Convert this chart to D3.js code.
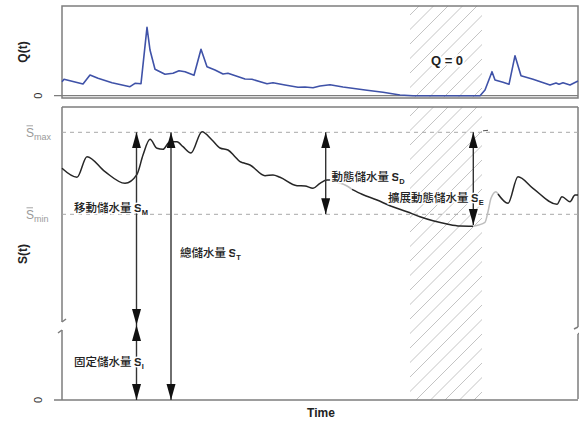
<!DOCTYPE html>
<html><head><meta charset="utf-8">
<script src="https://cdn.jsdelivr.net/npm/d3@7"></script>
<style>body{margin:0;background:#fff}svg{display:block}</style>
</head><body>
<svg id="c" width="579" height="421"></svg>
<script>
// ---------- data (time in days, values in arbitrary units) ----------
const qTime  = [0,2,21,28,36,50,68,73,79,85,88,93,103,111,117,123,132,139,145,153,161,166,183,190,205,211,223,236,243,251,258,268,281,305,321,338,351,418,423,430,433,441,447,453,459,471,488,494,497,501,508,516];
const qValue = [14,16.4,11.7,20.7,17.4,13,9,12.4,12,68.4,45.7,26.4,21.4,22.4,25,24,20.4,46.4,29,25.7,21.7,22.4,16.7,16.4,12,13,10.7,8.4,8.7,8,9.7,11,8.7,5.4,3.4,0.7,0,0,5.7,24,15.7,13.4,11.4,40,20,16.4,10.7,12.7,11.4,13,10.7,14.7];

const sTime  = [0,15,25,43,63,75,81,88,95,101,108,115,121,129,140,150,158,166,173,178,181,188,203,211,218,235,243,251,258,265,268,273,285,290,300,315,328,345,358,371,385,398,411,423,426,429,434,436,446,456,471,495,500,508,513,516];
const sValue = [231.7,222.7,243.3,228.3,216.7,225.7,245,260.7,251.7,250.7,258.3,258.3,253.3,247,268.3,260,252,250,243.3,238.3,237.3,235,224.3,225,222.7,214.3,214,211.7,216.7,220,220,218.3,214,210.6,205.7,200,194.3,188.3,183.3,179.3,176,174,173.8,177.7,188.3,201.7,208.3,206,196.7,223.3,211.7,195.7,203.3,198.3,205,205];
// time intervals in which the storage curve is drawn in light grey
const sGreyIntervals = [[268,290],[411,436]];

const sMax = 267.7, sMin = 185.7, sBreak = 75;
const zeroFlowPeriod = [348, 420];

// storage arrows
const arrowData = [
  {name:"SM", t:74.5, from:sMax, to:sBreak},
  {name:"SI", t:74.5, from:sBreak, to:0},
  {name:"ST", t:109, from:sMax, to:0},
  {name:"SD", t:263.7, from:sMax, to:sMin},
  {name:"SE", t:411.3, from:sMax, to:175}
];
// labels
const labelData = [
  {txt:"移動儲水量", sub:"M", t:12, s:193},
  {txt:"總儲水量", sub:"T", t:118, s:147.3},
  {txt:"固定儲水量", sub:"I", t:12, s:38.3},
  {txt:"動態儲水量", sub:"D", t:269.5, s:223.3},
  {txt:"擴展動態儲水量", sub:"E", t:326, s:203}
];

// ---------- scales ----------
const x  = d3.scaleLinear().domain([0,516]).range([62,578]);
const yQ = d3.scaleLinear().domain([0,90]).range([95.7,5.7]);
const yS = d3.scaleLinear().domain([0,293]).range([400,107]);

const svg = d3.select("#c");
const frame = "#7d7d7d";
const CJK = "'Noto Sans CJK TC','Noto Sans CJK SC',sans-serif";
const LAT = "'Liberation Sans',Arial,sans-serif";

// ---------- hatching ----------
function hatch(id, yTop, yBot){
  const x0 = x(zeroFlowPeriod[0]), x1 = x(zeroFlowPeriod[1]);
  svg.append("clipPath").attr("id",id).append("rect")
    .attr("x",x0).attr("y",yTop).attr("width",x1-x0).attr("height",yBot-yTop);
  const h = yBot-yTop;
  svg.append("g").attr("clip-path",`url(#${id})`)
    .selectAll("line").data(d3.range(x0-h-20, x1+20, 14.5)).join("line")
    .attr("x1",d=>d).attr("y1",yBot).attr("x2",d=>d+h).attr("y2",yTop)
    .attr("stroke","#c4c4c4").attr("stroke-width",1);
}
hatch("h1", yQ.range()[1]+0.3, 97.5);
hatch("h2", yS(293), yS(0));

// ---------- top panel ----------
svg.append("rect").attr("x",62).attr("y",6).attr("width",516).attr("height",92)
  .attr("fill","none").attr("stroke",frame).attr("stroke-width",1.5);
svg.append("line").attr("x1",54).attr("x2",578).attr("y1",yQ(0)).attr("y2",yQ(0))
  .attr("stroke",frame).attr("stroke-width",1.3);

svg.append("path").datum(qTime.map((t,i)=>[t,qValue[i]]))
  .attr("d", d3.line().x(d=>x(d[0])).y(d=>yQ(d[1])))
  .attr("fill","none").attr("stroke","#3f52a8").attr("stroke-width",1.6)
  .attr("stroke-linejoin","round");

svg.append("text").attr("transform",`translate(27,52) rotate(-90)`)
  .attr("text-anchor","middle").attr("font-family",LAT).attr("font-weight","bold")
  .attr("font-size",12).attr("fill","#222").text("Q(t)");
svg.append("text").attr("transform",`translate(42,${yQ(0)}) rotate(-90)`)
  .attr("text-anchor","middle").attr("font-family",LAT)
  .attr("font-size",11).attr("fill","#333").text("0");
svg.append("text").attr("x",x(385)).attr("y",65).attr("text-anchor","middle")
  .attr("font-family",LAT).attr("font-weight","bold").attr("font-size",13)
  .attr("fill","#222").attr("stroke","#fff").attr("stroke-width",4)
  .attr("paint-order","stroke").text("Q = 0");

// ---------- bottom panel frame ----------
const fr = svg.append("g").attr("stroke",frame).attr("stroke-width",1.5).attr("fill","none");
fr.append("line").attr("x1",62).attr("x2",578).attr("y1",yS(293)).attr("y2",yS(293));
fr.append("line").attr("x1",62).attr("x2",62).attr("y1",yS(293)).attr("y2",322);
fr.append("line").attr("x1",62).attr("x2",62).attr("y1",330).attr("y2",400);
fr.append("path").attr("d","M62,322 L66,319 M58,333 L62,330");
fr.append("line").attr("x1",54).attr("x2",578).attr("y1",yS(0)).attr("y2",yS(0));
fr.append("line").attr("x1",578).attr("x2",578).attr("y1",yS(293)).attr("y2",327);
fr.append("line").attr("x1",578).attr("x2",578).attr("y1",334).attr("y2",399);
fr.append("path").attr("d","M574,329 L578,327 M578,334 L581,332");

// dashed Smax / Smin
svg.selectAll(".ref").data([sMax,sMin]).join("line")
  .attr("x1",62).attr("x2",578).attr("y1",d=>yS(d)).attr("y2",d=>yS(d))
  .attr("stroke","#a8a8a8").attr("stroke-width",1).attr("stroke-dasharray","4,4");

// Smax / Smin labels
[[sMax,"max"],[sMin,"min"]].forEach(([v,s])=>{
  const t = svg.append("text").attr("x",26).attr("y",yS(v)+4.5)
    .attr("font-family",LAT).attr("font-size",12).attr("fill","#9a9a9a");
  t.append("tspan").text("S");
  t.append("tspan").attr("font-size",9).attr("dy",3).text(s);
  svg.append("line").attr("x1",26.5).attr("x2",33).attr("y1",yS(v)-6.5).attr("y2",yS(v)-6.5)
    .attr("stroke","#9a9a9a").attr("stroke-width",0.9);
});

svg.append("text").attr("transform",`translate(27,254) rotate(-90)`)
  .attr("text-anchor","middle").attr("font-family",LAT).attr("font-weight","bold")
  .attr("font-size",12).attr("fill","#222").text("S(t)");
svg.append("text").attr("transform",`translate(42,${yS(0)}) rotate(-90)`)
  .attr("text-anchor","middle").attr("font-family",LAT)
  .attr("font-size",11).attr("fill","#333").text("0");
svg.append("text").attr("x",321).attr("y",417).attr("text-anchor","middle")
  .attr("font-family",LAT).attr("font-weight","bold").attr("font-size",12)
  .attr("fill","#222").text("Time");

// ---------- storage curve ----------
const isGrey = (a,b)=>sGreyIntervals.some(([g0,g1])=>(a+b)/2>g0 && (a+b)/2<g1);
const segs = [];
for(let i=0;i<sTime.length-1;i++){
  const g = isGrey(sTime[i],sTime[i+1]);
  if(!segs.length || segs[segs.length-1].g!==g) segs.push({g, pts:[[sTime[i],sValue[i]]]});
  segs[segs.length-1].pts.push([sTime[i+1],sValue[i+1]]);
}
const sLine = d3.line().x(d=>x(d[0])).y(d=>yS(d[1])).curve(d3.curveMonotoneX);
svg.selectAll(".seg").data(segs).join("path")
  .attr("d",d=>sLine(d.pts)).attr("fill","none")
  .attr("stroke",d=>d.g?"#bdbdbd":"#262626").attr("stroke-width",1.5)
  .attr("stroke-linejoin","round");

// ---------- arrows ----------
const defs = svg.append("defs");
defs.append("marker").attr("id","ah").attr("markerUnits","userSpaceOnUse")
  .attr("markerWidth",17).attr("markerHeight",10).attr("refX",16).attr("refY",4.5)
  .attr("orient","auto-start-reverse")
  .append("path").attr("d","M0,0 L16,4.5 L0,9 Z").attr("fill","#111");
svg.selectAll(".arr").data(arrowData).join("line")
  .attr("x1",d=>x(d.t)).attr("x2",d=>x(d.t))
  .attr("y1",d=>yS(d.from)).attr("y2",d=>yS(d.to))
  .attr("stroke","#333").attr("stroke-width",1.4)
  .attr("marker-start","url(#ah)").attr("marker-end","url(#ah)");
svg.append("line").attr("x1",x(421)).attr("x2",x(426)).attr("y1",yS(sMax)-1.5).attr("y2",yS(sMax)-2)
  .attr("stroke","#555").attr("stroke-width",1);

// ---------- labels ----------
labelData.forEach(d=>{
  const t = svg.append("text").attr("x",x(d.t)).attr("y",yS(d.s)+4.5)
    .attr("font-size",11.5).attr("fill","#222")
    .attr("stroke","#fff").attr("stroke-width",3).attr("paint-order","stroke");
  t.append("tspan").attr("font-family",CJK).attr("font-weight",500).text(d.txt+" ");
  t.append("tspan").attr("font-family",LAT).attr("font-weight","bold").attr("font-size",11.5).text("S");
  t.append("tspan").attr("font-family",LAT).attr("font-weight","bold").attr("font-size",7.5).attr("dy",3).text(d.sub);
});
</script>
</body></html>
